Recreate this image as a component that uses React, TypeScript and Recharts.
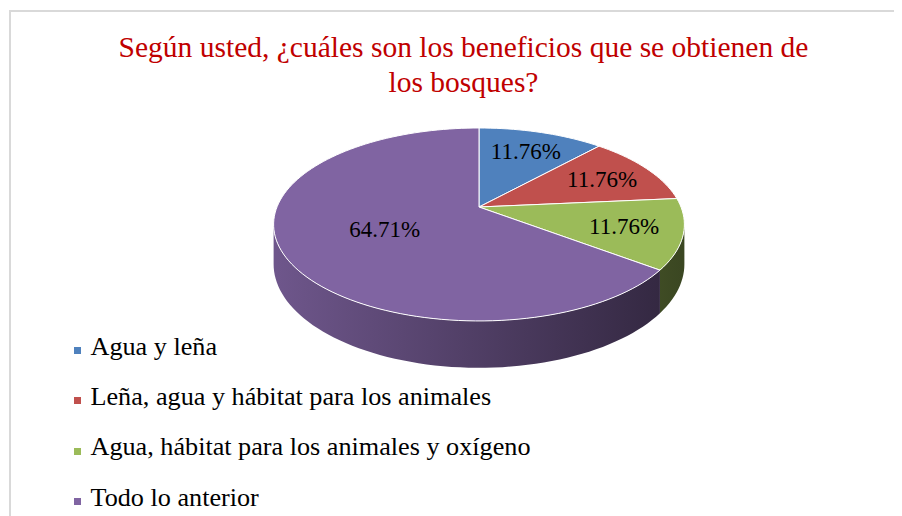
import { PieChart, Pie, Legend } from "recharts"

// answers to the survey question (counts; the labels show each share of 17)
const categories = [
  "Agua y leña",
  "Leña, agua y hábitat para los animales",
  "Agua, hábitat para los animales y oxígeno",
  "Todo lo anterior",
]
const counts = [2, 2, 2, 11]
const colors = ["#4f81bd", "#c0504d", "#9bbb59", "#8064a2"]

const titleLines = ["Según usted, ¿cuáles son los beneficios que se obtienen de", "los bosques?"]

const data = categories.map((name, i) => ({ name, value: counts[i], fill: colors[i] }))

const FONT = '"Liberation Serif", "Times New Roman", serif'

// fake 3D: squash the disc, add a bit of perspective and a side wall
const TILT = 0.462
const PERSP = 0.181
const DEPTH = 0.19
const SIDE_FROM = (Math.acos(-PERSP) * 180) / Math.PI
const SIDE_TO = 360 - SIDE_FROM

// theta: degrees clockwise from 12 o'clock, f: fraction of the radius
function project(cx: number, cy: number, r: number, theta: number, f = 1) {
  const rad = (theta * Math.PI) / 180
  const u = Math.sin(rad) * f
  const v = Math.cos(rad) * f
  const d = 1 + PERSP * v
  return { x: cx + (r * u) / d, y: cy - (r * TILT * v) / d, d }
}

function shade(hex: string, k: number) {
  const n = parseInt(hex.slice(1), 16)
  const c = [(n >> 16) & 255, (n >> 8) & 255, n & 255].map((x) => Math.round(x * k))
  return `rgb(${c.join(",")})`
}

function Slice3D(props: any) {
  const { cx, cy, outerRadius, startAngle, endAngle, fill } = props
  const t1 = 90 - startAngle
  const t2 = 90 - endAngle

  const arc = (from: number, to: number, drop: boolean) => {
    const n = Math.max(2, Math.ceil(Math.abs(to - from) / 2))
    const pts: string[] = []
    for (let i = 0; i <= n; i++) {
      const p = project(cx, cy, outerRadius, from + ((to - from) * i) / n)
      const y = drop ? p.y + (outerRadius * DEPTH) / p.d : p.y
      pts.push(`${p.x.toFixed(2)},${y.toFixed(2)}`)
    }
    return pts
  }

  const face = `M${cx},${cy}L${arc(t1, t2, false).join("L")}Z`
  const lo = Math.max(t1, SIDE_FROM)
  const hi = Math.min(t2, SIDE_TO)
  const gid = `side-${String(fill).slice(1)}`

  return (
    <g>
      <defs>
        <linearGradient id={gid} gradientUnits="userSpaceOnUse" x1={cx - outerRadius} x2={cx + outerRadius} y1={0} y2={0}>
          <stop offset="0" stopColor={shade(fill, 0.86)} />
          <stop offset="1" stopColor={shade(fill, 0.38)} />
        </linearGradient>
      </defs>
      {hi > lo && (
        <path d={`M${arc(lo, hi, false).join("L")}L${arc(hi, lo, true).join("L")}Z`} fill={`url(#${gid})`} />
      )}
      <path d={face} fill={fill} stroke="#fff" strokeWidth={1} strokeLinejoin="round" />
    </g>
  )
}

function renderLabel(props: any) {
  const { cx, cy, outerRadius, midAngle, percent } = props
  const p = project(cx, cy, outerRadius, 90 - midAngle, percent > 0.5 ? 0.5 : 0.72)
  return (
    <text
      x={p.x}
      y={p.y}
      dy="0.35em"
      textAnchor="middle"
      fill="#000"
      style={{ fontFamily: FONT, fontSize: 23 }}
    >
      {(percent * 100).toFixed(2)}%
    </text>
  )
}

function renderLegend({ payload }: any) {
  const items = [...(payload || [])].sort(
    (a: any, b: any) => categories.indexOf(a.value) - categories.indexOf(b.value)
  )
  return (
    <ul style={{ listStyle: "none", margin: 0, padding: 0, fontFamily: FONT, whiteSpace: "nowrap" }}>
      {items.map((entry: any) => (
        <li
          key={entry.value}
          style={{ position: "relative", height: 50.4, lineHeight: "50.4px", fontSize: 26.2, paddingLeft: 16.5, color: "#000" }}
        >
          <span style={{ position: "absolute", left: 0, top: 25.4, width: 7, height: 7, background: entry.color }} />
          {entry.value}
        </li>
      ))}
    </ul>
  )
}

export default function App() {
  return (
    <div style={{ position: "relative", width: 894, height: 508, overflow: "hidden", background: "#fff" }}>
      <div
        style={{
          position: "absolute",
          left: 1,
          top: 2,
          width: 2000,
          height: 2000,
          border: "2px solid #d9d9d9",
        }}
      />
      <div
        style={{
          position: "absolute",
          left: 55.5,
          top: 22.2,
          width: 800,
          textAlign: "center",
          fontFamily: FONT,
          fontSize: 29.5,
          lineHeight: "34.4px",
          color: "#c00000",
          whiteSpace: "nowrap",
        }}
      >
        {titleLines.map((t) => (
          <div key={t}>{t}</div>
        ))}
      </div>
      <div style={{ position: "absolute", left: 0, top: 0 }}>
        <PieChart width={894} height={508} margin={{ top: 0, right: 0, bottom: 0, left: 0 }}>
          <Pie
            data={data}
            dataKey="value"
            nameKey="name"
            cx={471}
            cy={199}
            outerRadius={202}
            startAngle={90}
            endAngle={-270}
            stroke="#fff"
            shape={Slice3D}
            label={renderLabel}
            labelLine={false}
            isAnimationActive={false}
          />
          <Legend
            layout="vertical"
            align="center"
            verticalAlign="middle"
            content={renderLegend}
            wrapperStyle={{ left: 66, top: 313.6, width: "auto" }}
          />
        </PieChart>
      </div>
    </div>
  )
}
